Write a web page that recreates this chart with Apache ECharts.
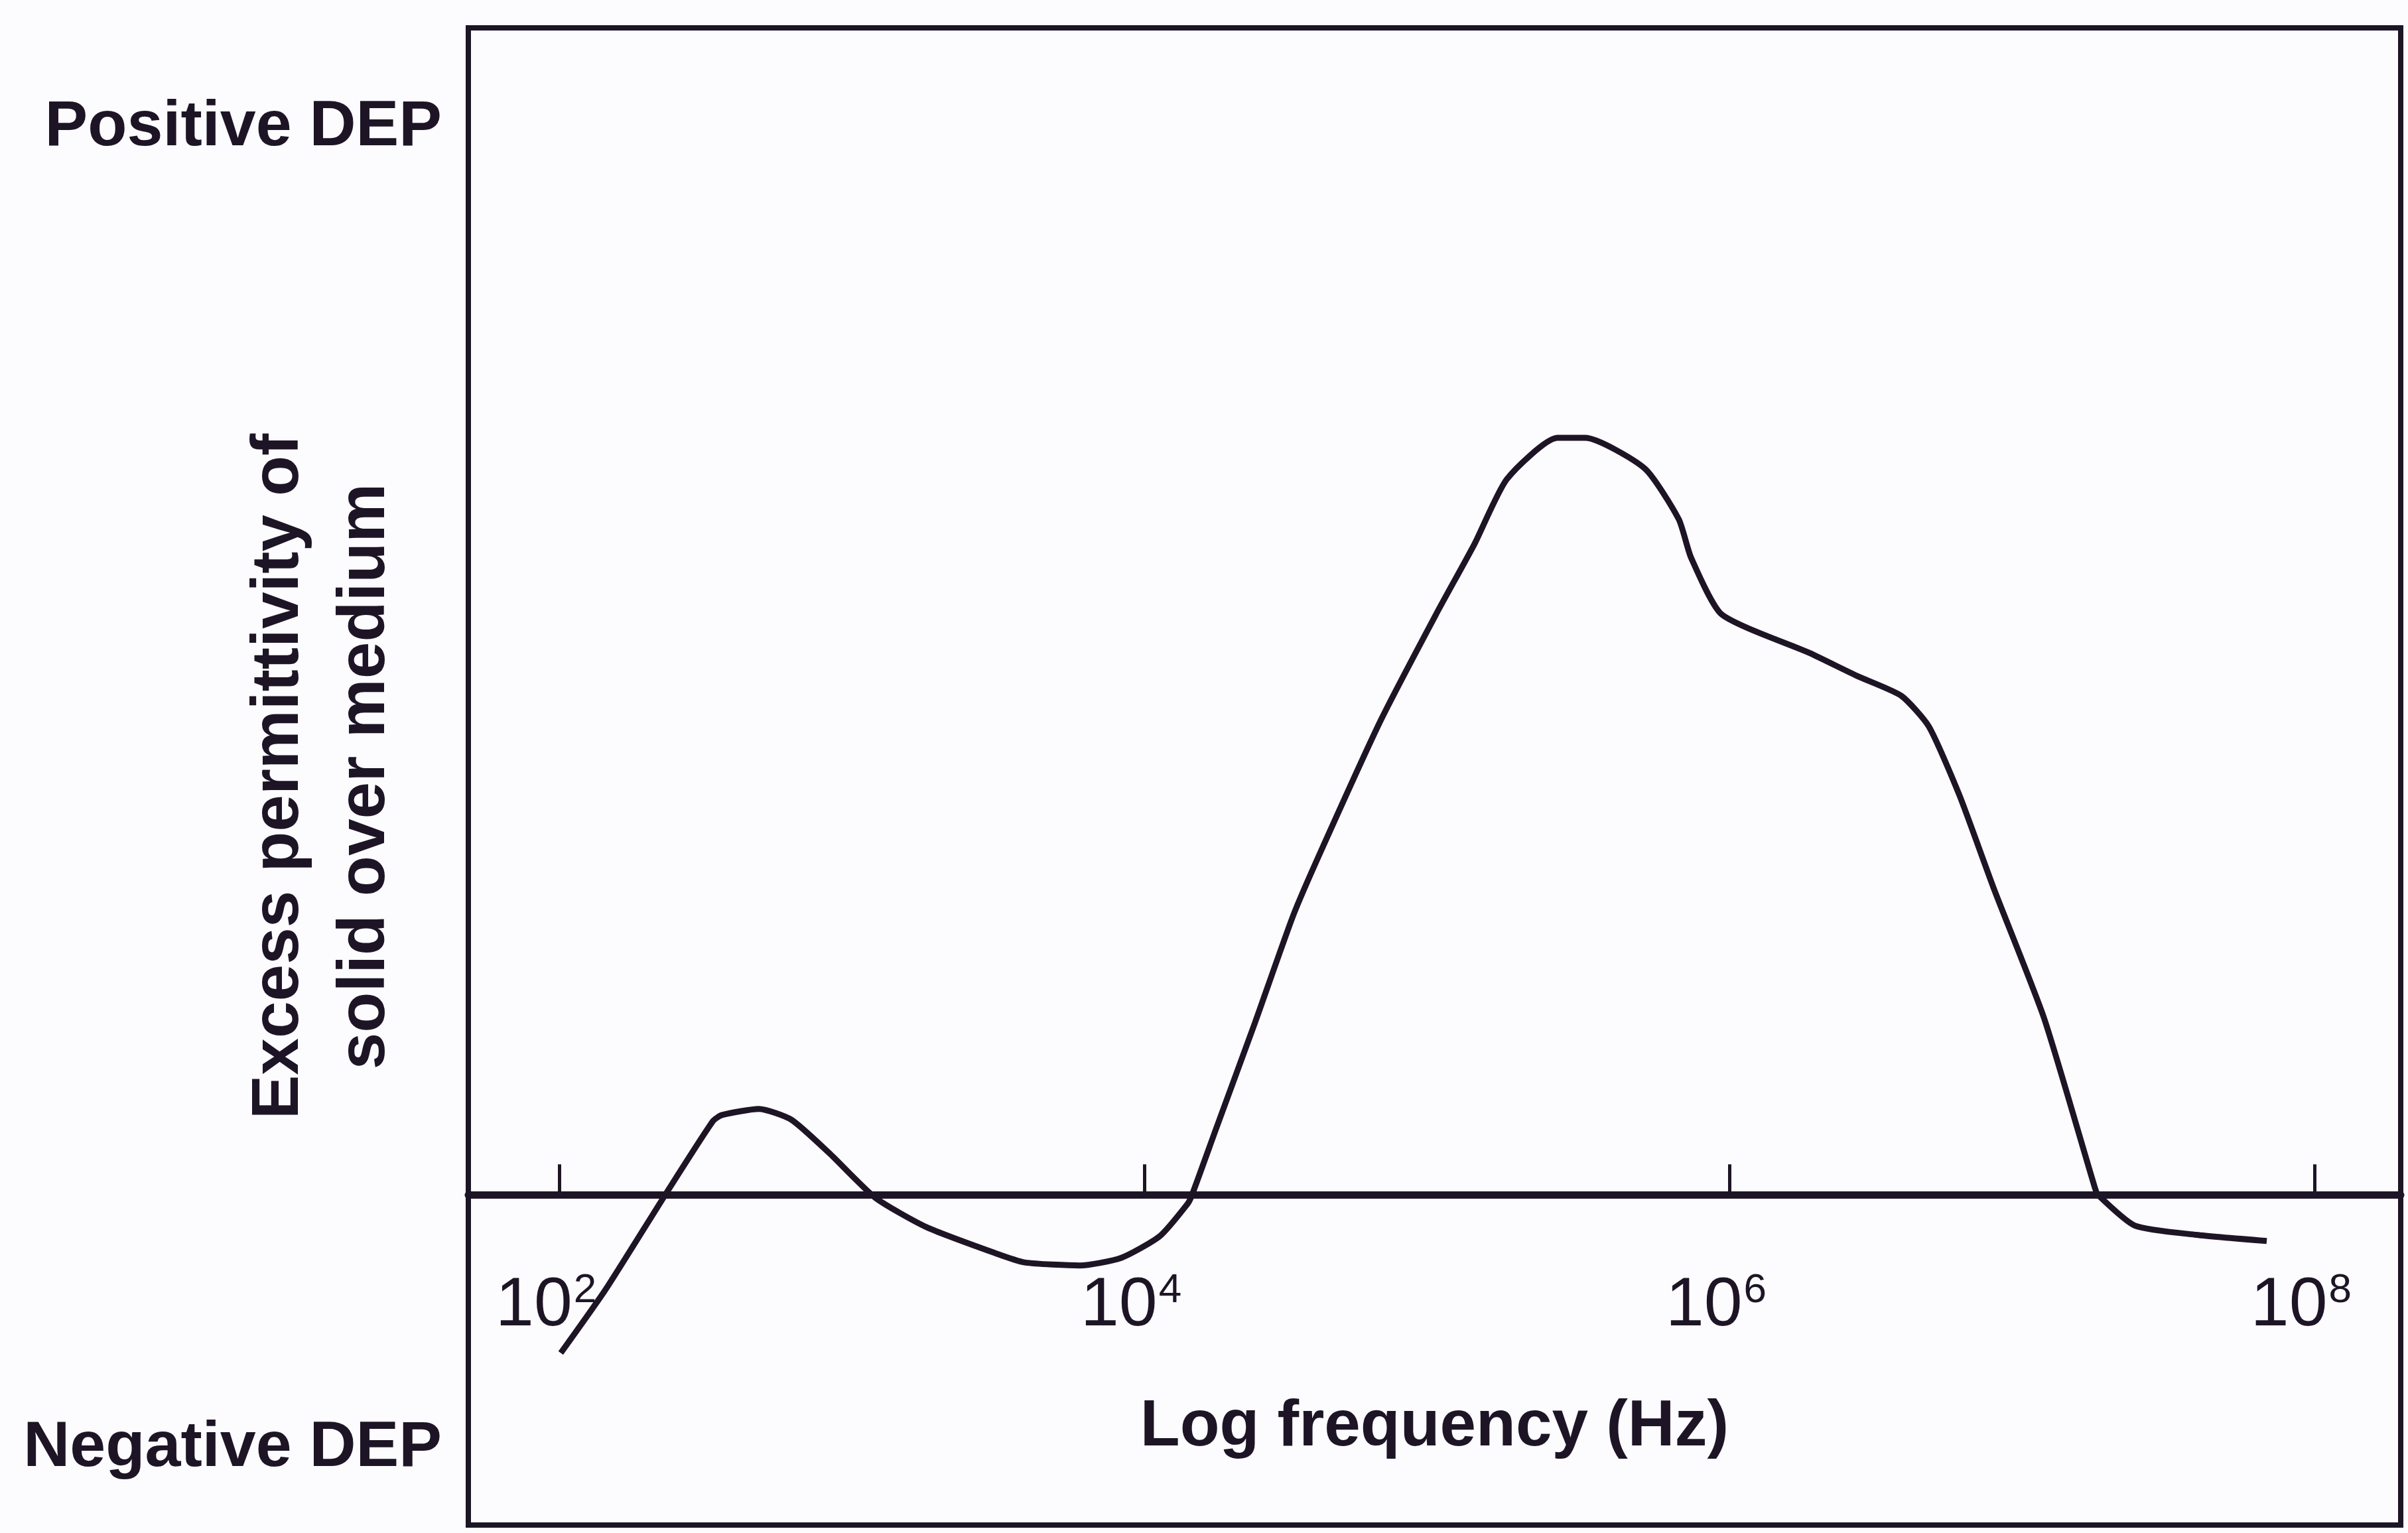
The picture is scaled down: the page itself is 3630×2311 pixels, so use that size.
<!DOCTYPE html>
<html>
<head>
<meta charset="utf-8">
<script src="https://cdn.jsdelivr.net/npm/echarts@6/dist/echarts.min.js"></script>
<style>
  html, body { margin: 0; padding: 0; background: #fcfbfd; }
  #chart { width: 3630px; height: 2311px; }
</style>
</head>
<body>
<div id="chart"></div>
<script>
// log10(frequency / Hz)
const logFreq = [2.005, 2.157, 2.362, 2.525, 2.556, 2.682, 2.793, 2.924, 3.081, 3.255, 3.491, 3.591, 3.780, 3.921, 4.052, 4.147, 4.163,
  4.247, 4.378, 4.509, 4.604, 4.808, 4.997, 5.129, 5.239, 5.412, 5.507, 5.711, 5.827, 5.869, 5.974, 6.273, 6.436, 6.588,
  6.682, 6.787, 6.903, 7.076, 7.249, 7.260, 7.386, 7.596, 7.837];
// excess permittivity of solid over medium (arbitrary units)
const permittivity = [-1.03, -0.62, 0.0, 0.48, 0.52, 0.56, 0.49, 0.27, -0.02, -0.21, -0.38, -0.44, -0.46, -0.41, -0.27, -0.06, 0.0,
  0.44, 1.12, 1.82, 2.24, 3.09, 3.78, 4.24, 4.66, 4.93, 4.93, 4.73, 4.40, 4.15, 3.78, 3.53, 3.38, 3.25,
  3.05, 2.60, 2.00, 1.15, 0.05, 0.0, -0.20, -0.26, -0.30];
const tickExponents = [2, 4, 6, 8];
const sideLabels = ['Positive DEP', 'Negative DEP'];
const sideLabelLevels = [6.95, -1.65];
const xTitle = 'Log frequency (Hz)';
const yTitle = 'Excess permittivity of\nsolid over medium';

const ink = '#1d1525';
const font = 'Liberation Sans';

const chart = echarts.init(document.getElementById('chart'));
chart.setOption({
  backgroundColor: '#fcfbfd',
  animation: false,
  grid: {
    left: 706, right: 11, top: 42, bottom: 12,
    containLabel: false, outerBoundsMode: 'none',
    show: true, borderColor: ink, borderWidth: 8, backgroundColor: 'transparent'
  },
  xAxis: {
    type: 'value',
    min: 1.689, max: 8.295,
    offset: -497.7,
    axisLine: { show: true, onZero: false, lineStyle: { color: ink, width: 11 } },
    axisTick: { show: true, inside: true, length: 46, customValues: tickExponents, lineStyle: { color: ink, width: 5 } },
    axisLabel: {
      show: true, customValues: tickExponents, margin: 114,
      formatter: v => '{b|10}{s|' + v + '}',
      padding: [0, 40, 0, 0],
      rich: {
        b: { fontFamily: font, fontSize: 104, color: ink, lineHeight: 108 },
        s: { fontFamily: font, fontSize: 62, color: ink, lineHeight: 108, verticalAlign: 'top', padding: [0, 0, 62, 2] }
      }
    },
    splitLine: { show: false },
    name: xTitle, nameLocation: 'middle', nameGap: 302, nameMoveOverlap: false,
    nameTextStyle: { fontFamily: font, fontWeight: 'bold', fontSize: 98, color: ink }
  },
  yAxis: {
    type: 'value',
    min: -2.15, max: 7.6,
    axisLine: { show: false },
    axisTick: { show: false },
    splitLine: { show: false },
    axisLabel: {
      show: true, customValues: sideLabelLevels, margin: 40,
      formatter: v => sideLabels[sideLabelLevels.indexOf(v)],
      fontFamily: font, fontWeight: 'bold', fontSize: 97, color: ink
    },
    name: yTitle, nameLocation: 'middle', nameGap: 90, nameRotate: 90, nameMoveOverlap: false,
    nameTextStyle: { fontFamily: font, fontWeight: 'bold', fontSize: 100, color: ink, lineHeight: 130, align: 'center' }
  },
  series: [{
    type: 'line',
    data: logFreq.map((x, i) => [x, permittivity[i]]),
    smooth: 0.2,
    symbol: 'none',
    lineStyle: { color: ink, width: 9 },
    z: 5
  }]
});
</script>
</body>
</html>
